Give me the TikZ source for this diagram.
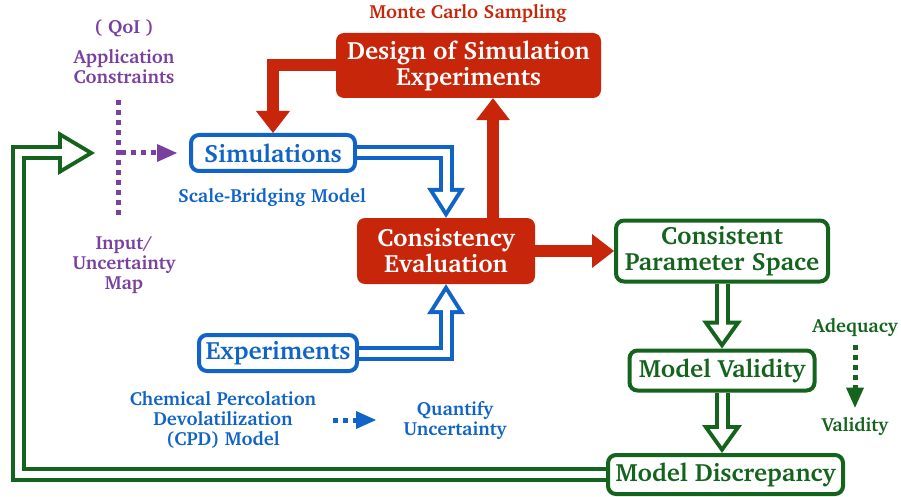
\documentclass[tikz,border=0pt]{standalone}
\usepackage[T1]{fontenc}
\usepackage{charter}
\usetikzlibrary{arrows.meta,positioning,calc}

\definecolor{mcred}{RGB}{200,38,10}
\definecolor{simblue}{RGB}{16,100,200}
\definecolor{valgreen}{RGB}{20,100,30}
\definecolor{qoipurple}{RGB}{122,64,160}

% hollow arrow: colour, tip length, tip width, path
\newcommand{\hollowarrow}[4]{%
  \pgfmathsetmacro{\hH}{#3/2}%
  \pgfmathsetmacro{\hS}{4/sin(atan(\hH/#2))}%
  \pgfmathsetmacro{\hL}{#2-4-\hS}%
  \pgfmathsetmacro{\hW}{2*\hL*\hH/#2}%
  \draw[#1, line width=15pt, -{Triangle[length=#2pt,width=#3pt,line width=0pt]}] #4;
  \draw[white, line width=7pt, shorten >=\hS pt, -{Triangle[length=\hL pt,width=\hW pt,line width=0pt]}] #4;
}

\begin{document}
\begin{tikzpicture}[x=1pt,y=-1pt,
  bigfont/.style={font=\bfseries\fontsize{25}{26}\selectfont},
  smallfont/.style={font=\bfseries\fontsize{19}{20}\selectfont},
  redbox/.style={rectangle, rounded corners=8pt, fill=mcred, text=white, align=center, inner sep=0pt, bigfont},
  linebox/.style={rectangle, rounded corners=8pt, draw=#1, line width=4pt, fill=white, text=#1, align=center, inner sep=0pt, bigfont},
  note/.style={text=#1, align=center, inner sep=1pt, smallfont},
  redarrow/.style={mcred, line width=12pt, -{Triangle[length=22pt,width=34pt,line width=0pt]}},
  dots/.style={#1, line width=5pt, dash pattern=on 5pt off 5pt},
  dotarrow/.style={dots=#1, -{Triangle[length=20pt,width=18pt,line width=0pt]}}]
\useasboundingbox (0,0) rectangle (901,497);

% boxes
\node[redbox, minimum width=265pt, minimum height=65pt] (dse) at (468.5,65.5) {Design of Simulation\\Experiments};
\node[linebox=simblue, minimum width=164pt, minimum height=36pt] (sim) at (273,153) {Simulations};
\node[redbox, minimum width=178pt, minimum height=66pt] (cons) at (446,251) {Consistency\\Evaluation};
\node[linebox=valgreen, minimum width=212pt, minimum height=61pt] (cps) at (722,251) {Consistent\\Parameter Space};
\node[linebox=simblue, minimum width=158pt, minimum height=36pt] (exp) at (278,353) {Experiments};
\node[linebox=valgreen, minimum width=185pt, minimum height=40pt] (mv) at (722,370.5) {Model Validity};
\node[linebox=valgreen, minimum width=235pt, minimum height=39pt] (md) at (725.5,474.5) {Model Discrepancy};

% labels
\node[note=mcred] (mcs) at (468,13) {Monte Carlo Sampling};
\node[note=qoipurple] (qoi) at (124,28) {( QoI )};
\node[note=qoipurple] (app) at (124,66) {Application\\Constraints};
\node[note=qoipurple] (inmap) at (124,265) {Input/\\Uncertainty\\Map};
\node[note=simblue] (sbm) at (272,197) {Scale-Bridging Model};
\node[note=simblue] (cpd) at (223,420) {Chemical Percolation\\Devolatilization\\(CPD) Model};
\node[note=simblue] (quant) at (455,420) {Quantify\\Uncertainty};
\node[note=valgreen] (adeq) at (855,327) {Adequacy};
\node[note=valgreen] (valid) at (855,426) {Validity};

\coordinate (consup) at (493,0);
\coordinate (qtop) at (118,100);
\coordinate (qbot) at (118,216);
\coordinate (qmid) at (118,153);
\coordinate (loopx) at (18,475);
\coordinate (qin) at (95,153);
\coordinate (cpdout) at (333,420);
\coordinate (quantin) at (376,420);

% red flow
\draw[redarrow] (dse.west) -| (sim.north);
\draw[redarrow] (cons.north -| consup) -- (dse.south -| consup);
\draw[redarrow] (cons.east) -- (cps.west);

% hollow flow
\hollowarrow{simblue}{30}{38}{(sim.east) -| (cons.north)}
\hollowarrow{simblue}{30}{38}{(exp.east) -| (cons.south)}
\hollowarrow{valgreen}{28}{40}{(cps.south) -- (mv.north)}
\hollowarrow{valgreen}{28}{40}{(mv.south) -- (mv.south |- md.north)}
\hollowarrow{valgreen}{37}{44}{(md.west) -- (md.west -| loopx) |- (qin)}

% dotted hints
\draw[dots=qoipurple] (qtop) -- (qbot);
\draw[dotarrow=qoipurple, shorten <=3pt, shorten >=12pt] (qmid) -- (sim.west);
\draw[dotarrow=simblue] (cpdout) -- (quantin);
\draw[dotarrow=valgreen, shorten <=8pt, shorten >=8pt] (adeq.south) -- (valid.north);
\end{tikzpicture}
\end{document}
